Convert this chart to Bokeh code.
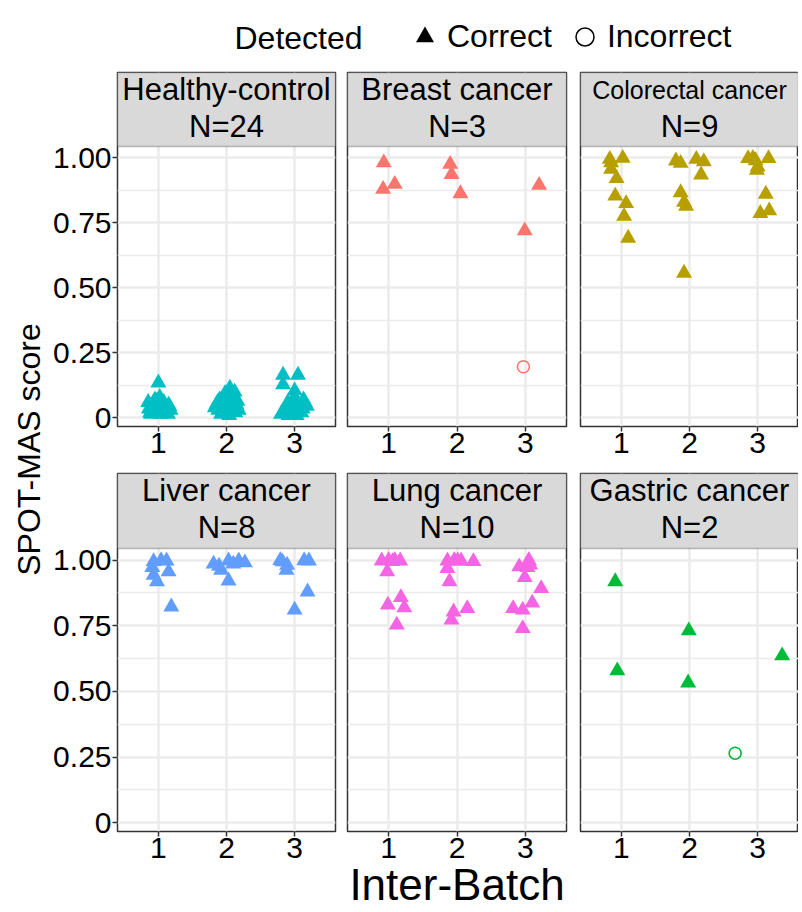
from bokeh.plotting import figure
from bokeh.models import Range1d, FixedTicker, Legend, LegendItem, Label, Title, BoxAnnotation
from bokeh.layouts import row, column
from bokeh.embed import file_html
from bokeh.resources import INLINE

# ---------------- data ----------------
panel_names = ["Healthy-control", "Breast cancer", "Colorectal cancer",
               "Liver cancer", "Lung cancer", "Gastric cancer"]
panel_n = [24, 3, 9, 8, 10, 2]
panel_colors = ["#00BFC4", "#F8766D", "#B79F00", "#619CFF", "#F564E3", "#00BA38"]

y_ticks = [0, 0.25, 0.5, 0.75, 1.0]
y_tick_labels = ["0", "0.25", "0.50", "0.75", "1.00"]
y_minor_ticks = [0.125, 0.375, 0.625, 0.875]
x_ticks = [1, 2, 3]
x_tick_labels = ["1", "2", "3"]
legend_labels = ["Correct", "Incorrect"]

healthy_batch = [1.00, 0.85, 0.90, 0.95, 1.02, 1.08, 1.15, 1.18, 0.88, 0.93, 1.00, 1.05,
                 1.12, 0.97, 1.10, 0.86, 1.04, 0.92, 1.14, 0.98, 1.06, 0.89, 1.01, 1.16,
                 2.05, 2.12, 1.85, 1.90, 1.95, 2.00, 2.08, 2.15, 2.18, 1.88, 1.93, 2.02,
                 2.10, 1.97, 2.06, 1.83, 2.13, 2.00, 1.92, 2.04, 2.16, 1.98, 2.09, 1.87,
                 2.83, 3.05, 2.83, 3.00, 3.00, 3.15, 2.90, 2.95, 3.08, 3.12, 2.86, 2.93,
                 3.02, 3.10, 2.80, 2.97, 3.05, 2.88, 3.18, 2.91, 3.03, 3.13, 2.99, 2.84]
healthy_score = [0.135, 0.060, 0.040, 0.070, 0.080, 0.060, 0.050, 0.030, 0.020, 0.030, 0.050, 0.040,
                 0.020, 0.020, 0.035, 0.035, 0.015, 0.055, 0.015, 0.065, 0.025, 0.015, 0.030, 0.045,
                 0.115, 0.100, 0.050, 0.070, 0.060, 0.085, 0.075, 0.050, 0.030, 0.030, 0.040, 0.020,
                 0.040, 0.030, 0.055, 0.040, 0.020, 0.045, 0.015, 0.010, 0.065, 0.095, 0.025, 0.060,
                 0.165, 0.165, 0.128, 0.105, 0.080, 0.060, 0.060, 0.040, 0.050, 0.035, 0.030, 0.020,
                 0.025, 0.020, 0.015, 0.050, 0.030, 0.045, 0.045, 0.010, 0.010, 0.070, 0.065, 0.020]
healthy_detected = ["Correct"] * 72

breast_batch = [0.93, 1.09, 0.92, 1.90, 1.92, 2.05, 2.99, 3.20, 2.97]
breast_score = [0.982, 0.899, 0.880, 0.976, 0.937, 0.863, 0.720, 0.895, 0.197]
breast_detected = ["Correct"] * 8 + ["Incorrect"]

colorectal_batch = [0.83, 0.85, 1.02, 0.85, 0.93, 0.91, 1.07, 1.04, 1.10,
                    1.80, 1.87, 2.10, 2.21, 2.17, 1.87, 1.92, 1.95, 1.92,
                    2.86, 2.93, 3.16, 3.00, 2.99, 3.12, 3.04, 3.17, 2.97]
colorectal_score = [0.995, 0.982, 0.999, 0.957, 0.921, 0.854, 0.825, 0.776, 0.692,
                    0.989, 0.980, 0.995, 0.986, 0.935, 0.867, 0.830, 0.815, 0.557,
                    0.998, 0.999, 0.998, 0.966, 0.953, 0.861, 0.787, 0.797, 0.990]
colorectal_detected = ["Correct"] * 27

liver_batch = [0.93, 1.04, 1.12, 0.91, 1.15, 0.93, 0.98, 1.19,
               1.81, 2.03, 2.18, 2.27, 1.92, 2.03, 1.89, 2.10,
               2.82, 2.89, 2.88, 3.14, 3.21, 3.19, 3.00, 2.79]
liver_score = [0.995, 0.998, 0.997, 0.972, 0.956, 0.943, 0.918, 0.822,
               0.985, 0.997, 0.997, 0.990, 0.962, 0.921, 0.977, 0.985,
               0.994, 0.981, 0.962, 0.998, 0.997, 0.879, 0.810, 0.999]
liver_detected = ["Correct"] * 24

lung_batch = [0.90, 1.00, 1.09, 1.17, 0.98, 0.99, 1.18, 1.23, 1.12, 1.06,
              1.86, 1.96, 2.06, 2.24, 1.86, 1.89, 1.95, 1.92, 2.15, 2.01,
              3.05, 2.91, 3.03, 2.99, 3.23, 3.10, 2.82, 2.96, 2.96, 3.07]
lung_score = [0.997, 0.999, 0.999, 0.997, 0.956, 0.829, 0.858, 0.819, 0.753, 0.995,
              0.997, 0.999, 0.997, 0.995, 0.968, 0.918, 0.803, 0.772, 0.816, 0.997,
              0.999, 0.975, 0.972, 0.934, 0.892, 0.837, 0.816, 0.810, 0.740, 0.982]
lung_detected = ["Correct"] * 30

gastric_batch = [0.91, 0.94, 1.99, 1.98, 3.36, 2.67]
gastric_score = [0.918, 0.579, 0.731, 0.533, 0.636, 0.265]
gastric_detected = ["Correct"] * 5 + ["Incorrect"]

panel_batch = [healthy_batch, breast_batch, colorectal_batch, liver_batch, lung_batch, gastric_batch]
panel_score = [healthy_score, breast_score, colorectal_score, liver_score, lung_score, gastric_score]
panel_detected = [healthy_detected, breast_detected, colorectal_detected,
                  liver_detected, lung_detected, gastric_detected]

# ---------------- style ----------------
FONT = "'Liberation Sans', Arial, sans-serif"
GRID = "#EBEBEB"
DARK = "#333333"
STRIP_FILL = "#D9D9D9"
FW = [218, 219, 218]
ML = [70, 6, 7]
MR = [6, 7, 0]
SH = [74, 75]        # strip heights (px)
FH = [280, 283]      # data-area heights (px)
MT = 6               # top border of each panel figure
MB = [41, 70]
Y0, Y1 = -0.033, 1.044
X0, X1 = 0.4, 3.6
strip_font = ["31px", "31px", "25px", "31px", "31px", "31px"]
NAN = float("nan")


def make_panel(i, col, r):
    span = Y1 - Y0
    upp = span / FH[r]                 # data units per pixel
    ytop = Y1 + SH[r] * upp
    p = figure(frame_width=FW[col], frame_height=FH[r] + SH[r], x_range=Range1d(X0, X1),
               y_range=Range1d(Y0, ytop), toolbar_location=None, output_backend="svg",
               y_axis_location="left" if col == 0 else None,
               min_border_left=ML[col], min_border_right=MR[col], min_border_top=MT,
               min_border_bottom=MB[r],
               background_fill_color="white", border_fill_color="white",
               outline_line_color=DARK, outline_line_width=1.5)
    xt = FixedTicker(ticks=x_ticks)
    yt = FixedTicker(ticks=y_ticks, minor_ticks=y_minor_ticks)
    p.xaxis.ticker = xt
    p.xaxis.major_label_overrides = dict(zip(x_ticks, x_tick_labels))
    p.xgrid.ticker = xt
    p.ygrid.ticker = yt
    p.xgrid.grid_line_color = GRID
    p.xgrid.grid_line_width = 2.5
    p.ygrid.grid_line_color = GRID
    p.ygrid.grid_line_width = 2.5
    p.ygrid.minor_grid_line_color = GRID
    p.ygrid.minor_grid_line_width = 1.4
    if col == 0:
        p.yaxis.ticker = yt
        p.yaxis.major_label_overrides = dict(zip(y_ticks, y_tick_labels))
    for ax in p.axis:
        ax.axis_line_color = None
        ax.major_tick_line_color = DARK
        ax.major_tick_line_width = 1.5
        ax.major_tick_out = 5
        ax.major_tick_in = 0
        ax.minor_tick_line_color = None
        ax.major_label_text_font = FONT
        ax.major_label_text_font_size = "30px"
        ax.major_label_text_color = "black"
        ax.major_label_standoff = 1
    if r == 1 and col == 1:
        p.xaxis.axis_label = "Inter-Batch"
        p.xaxis.axis_label_text_font = FONT
        p.xaxis.axis_label_text_font_size = "44px"
        p.xaxis.axis_label_text_font_style = "normal"
        p.xaxis.axis_label_text_color = "black"
        p.xaxis.axis_label_standoff = -1

    # facet strip (grey header box)
    p.add_layout(BoxAnnotation(bottom=Y1, fill_color=STRIP_FILL, fill_alpha=1.0,
                               line_color=DARK, line_width=1.5))
    xc = (X0 + X1) / 2
    p.add_layout(Label(x=xc, y=ytop - 17 * upp, text=panel_names[i], text_align="center",
                       text_baseline="middle", text_font=FONT, text_font_size=strip_font[i],
                       text_color="black"))
    p.add_layout(Label(x=xc, y=ytop - 53.5 * upp, text="N=%d" % panel_n[i], text_align="center",
                       text_baseline="middle", text_font=FONT, text_font_size="31px",
                       text_color="black"))

    xs, ys, ds = panel_batch[i], panel_score[i], panel_detected[i]
    cx = [x for x, d in zip(xs, ds) if d == "Correct"]
    cy = [y for y, d in zip(ys, ds) if d == "Correct"]
    ix = [x for x, d in zip(xs, ds) if d == "Incorrect"]
    iy = [y for y, d in zip(ys, ds) if d == "Incorrect"]
    p.scatter(cx, cy, marker="triangle", size=16, fill_color=panel_colors[i], line_color=None)
    if ix:
        p.scatter(ix, iy, marker="circle", size=12, fill_color=None,
                  line_color=panel_colors[i], line_width=1.6)
    return p


panels = [make_panel(i, i % 3, i // 3) for i in range(6)]

# legend strip
LH = 66
lf = figure(width=798, height=LH, x_range=Range1d(0, 798), y_range=Range1d(0, LH),
            toolbar_location=None, output_backend="svg", x_axis_location=None, y_axis_location=None,
            min_border=0, outline_line_color=None)
lf.grid.visible = False
r1 = lf.scatter(x=[NAN], y=[NAN], marker="triangle", fill_color="black", line_color=None)
r2 = lf.scatter(x=[NAN], y=[NAN], marker="circle", fill_color=None, line_color="black", line_width=1.5)
leg = Legend(items=[LegendItem(label=legend_labels[0], renderers=[r1], index=0),
                    LegendItem(label=legend_labels[1], renderers=[r2], index=0)],
             orientation="horizontal", location=(402, 7), glyph_width=45, glyph_height=45,
             label_standoff=-5, spacing=10, padding=0, margin=0, border_line_color=None,
             background_fill_alpha=0, label_text_font=FONT, label_text_font_size="32px",
             label_text_color="black")
lf.add_layout(leg)
lf.add_layout(Label(x=234, y=LH - 37, text="Detected", text_baseline="middle", text_font=FONT,
                    text_font_size="32px", text_color="black"))

# y title
yt_fig = figure(width=47, height=760 - LH + 72, toolbar_location=None, output_backend="svg",
                x_axis_location=None, y_axis_location=None, min_border=0, min_border_left=46,
                outline_line_color=None)
yt_fig.grid.visible = False
yt_fig.add_layout(Title(text="SPOT-MAS score", align="center", text_font=FONT, text_font_size="32px",
                        text_font_style="normal", text_color="black", standoff=0), "left")

panels_col = column(row(panels[0:3]), row(panels[3:6]))
layout = column(lf, row(yt_fig, panels_col))

open("out.html", "w").write(file_html(layout, INLINE))
